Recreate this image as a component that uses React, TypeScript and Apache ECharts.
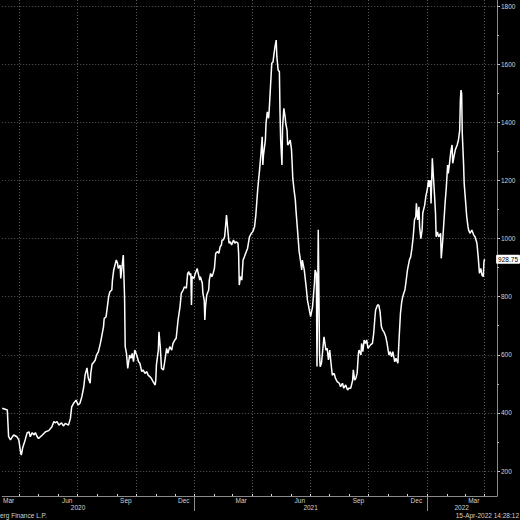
import React, { useEffect, useRef } from 'react';
import * as echarts from 'echarts';

// ---- data ----
const START_DATE = '2020-03-05'; // day 0 of dayOffsets
const X_MIN = '2020-03-05';
const X_MAX = '2022-04-20T12:00:00Z';
const Y_MIN = 114;
const Y_MAX = 1821;

const dayOffsets = [
  0, 8, 10, 13, 16, 18, 23, 26, 29, 30,
  32, 36, 39, 42, 44, 47, 50, 52, 55, 57,
  63, 68, 73, 78, 81, 83, 86, 89, 93, 96,
  99, 104, 107, 109, 112, 116, 119, 122, 125, 128,
  130, 133, 135, 138, 139, 141, 143, 146, 148, 151,
  154, 156, 159, 160, 163, 165, 167, 169, 172, 173,
  175, 179, 181, 182, 185, 186, 188, 190, 192, 193,
  195, 197, 200, 202, 204, 206, 208, 211, 214, 216,
  219, 221, 224, 227, 229, 232, 234, 237, 240, 241,
  242, 245, 246, 248, 250, 253, 255, 258, 260, 263,
  266, 268, 271, 273, 276, 279, 281, 284, 286, 289,
  291, 293, 294, 296, 297, 298, 301, 303, 306, 307,
  310, 311, 314, 315, 317, 318, 319, 321, 324, 325,
  327, 329, 331, 333, 335, 338, 340, 342, 344, 345,
  347, 349, 350, 352, 354, 356, 358, 360, 363, 365,
  367, 370, 371, 372, 374, 376, 378, 380, 383, 385,
  388, 391, 393, 396, 398, 401, 404, 406, 408, 409,
  410, 413, 414, 416, 418, 419, 421, 423, 425, 426,
  428, 430, 431, 433, 435, 436, 437, 439, 440, 442,
  444, 445, 447, 448, 450, 452, 454, 455, 456, 458,
  460, 461, 463, 465, 466, 468, 470, 471, 474, 477,
  479, 482, 484, 487, 490, 491, 493, 494, 496, 498,
  499, 501, 503, 505, 508, 510, 512, 514, 516, 518,
  521, 523, 526, 529, 531, 534, 536, 539, 542, 544,
  547, 550, 551, 553, 555, 557, 559, 560, 563, 564,
  566, 568, 570, 572, 574, 576, 578, 581, 583, 585,
  586, 589, 591, 593, 595, 597, 599, 602, 604, 606,
  607, 609, 611, 613, 615, 616, 618, 620, 621, 623,
  625, 627, 628, 630, 632, 634, 636, 639, 641, 643,
  645, 647, 649, 650, 652, 654, 655, 657, 659, 660,
  663, 665, 667, 669, 670, 672, 673, 675, 677, 678,
  680, 681, 683, 685, 688, 689, 691, 693, 695, 697,
  699, 700, 702, 704, 706, 707, 709, 711, 714, 716,
  718, 719, 720, 721, 722, 724, 725, 727, 729, 731,
  732, 734, 737, 740, 742, 745, 747, 749, 751, 753,
  755, 756, 757,
];

const prices = [
  416, 410, 318, 307, 318, 324, 318, 307, 262, 255,
  279, 307, 331, 335, 318, 332, 324, 332, 318, 312,
  324, 335, 339, 352, 370, 366, 370, 358, 366, 355,
  364, 358, 381, 421, 433, 444, 427, 433, 456, 490,
  530, 555, 520, 502, 537, 568, 572, 582, 599, 611,
  639, 662, 697, 725, 731, 765, 800, 817, 823, 857,
  892, 926, 915, 897, 909, 863, 903, 943, 800, 628,
  605, 553, 599, 588, 605, 576, 616, 599, 576, 571,
  542, 548, 536, 542, 530, 524, 519, 507, 496, 513,
  565, 616, 679, 628, 553, 548, 576, 622, 605, 628,
  616, 639, 651, 657, 720, 765, 811, 823, 834, 829,
  880, 886, 874, 880, 771, 869, 863, 880, 897, 886,
  857, 869, 846, 811, 788, 720, 765, 806, 823, 857,
  880, 869, 880, 897, 949, 955, 949, 972, 978, 995,
  995, 1006, 1029, 1081, 1029, 984, 989, 978, 995, 984,
  989, 984, 949, 840, 869, 857, 926, 937, 955, 966,
  1006, 1018, 1023, 1041, 1080, 1170, 1240, 1290, 1350, 1253,
  1287, 1339, 1396, 1436, 1414, 1442, 1522, 1603, 1608, 1626,
  1660, 1683, 1626, 1580, 1574, 1431, 1339, 1253, 1385, 1448,
  1419, 1396, 1373, 1322, 1328, 1339, 1305, 1259, 1207, 1167,
  1133, 1098, 1041, 984, 955, 926, 892, 926, 892, 834,
  788, 754, 731, 765, 846, 892, 880, 560, 1030, 600,
  559, 571, 616, 662, 616, 622, 582, 616, 571, 530,
  536, 519, 507, 502, 490, 502, 485, 496, 479, 485,
  485, 513, 548, 513, 519, 536, 605, 616, 599, 639,
  611, 651, 639, 651, 622, 628, 634, 639, 674, 731,
  754, 771, 771, 748, 697, 685, 679, 662, 639, 611,
  599, 611, 593, 611, 588, 576, 588, 576, 571, 662,
  743, 783, 794, 811, 823, 857, 892, 926, 937, 966,
  1006, 1064, 1075, 1121, 1064, 1109, 1041, 1000, 1030, 1087,
  1115, 1148, 1167, 1201, 1178, 1201, 1121, 1276, 1201, 1167,
  1087, 1006, 1023, 1006, 1018, 932, 984, 1052, 1121, 1178,
  1253, 1224, 1259, 1299, 1322, 1259, 1282, 1305, 1322, 1339,
  1373, 1477, 1511, 1499, 1362, 1259, 1190, 1133, 1075, 1041,
  1029, 1018, 1029, 1012, 1006, 984, 937, 880, 897, 874,
  869, 920, 928.75,
];

const lastPrice = 928.75;

const quarterStarts = [
  '2020-04-01', '2020-07-01', '2020-10-01', '2021-01-01', '2021-04-01',
  '2021-07-01', '2021-10-01', '2022-01-01', '2022-04-01',
];
const monthStarts = [
  '2020-04-01', '2020-05-01', '2020-06-01', '2020-07-01', '2020-08-01', '2020-09-01',
  '2020-10-01', '2020-11-01', '2020-12-01', '2021-01-01', '2021-02-01', '2021-03-01',
  '2021-04-01', '2021-05-01', '2021-06-01', '2021-07-01', '2021-08-01', '2021-09-01',
  '2021-10-01', '2021-11-01', '2021-12-01', '2022-01-01', '2022-02-01', '2022-03-01',
  '2022-04-01',
];
const monthLabelDates = [
  '2020-03-15', '2020-06-15', '2020-09-15', '2020-12-15', '2021-03-15',
  '2021-06-15', '2021-09-15', '2021-12-15', '2022-03-15',
];
const MONTH_NAMES = ['Jan', 'Feb', 'Mar', 'Apr', 'May', 'Jun', 'Jul', 'Aug', 'Sep', 'Oct', 'Nov', 'Dec'];
const yearStarts = ['2021-01-01', '2022-01-01'];
const yearLabelDates = ['2020-07-02', '2021-07-02', '2022-02-24'];

const majorYTicks = [200, 400, 600, 800, 1000, 1200, 1400, 1600, 1800];
const minorYTicks = [200, 300, 400, 500, 600, 700, 800, 900, 1000, 1100, 1200, 1300, 1400, 1500, 1600, 1700, 1800];

// the reference image is cropped at the left, only this part of the source line is visible
const sourceText = 'erg Finance L.P.';
const stampText = '15-Apr-2022 14:28:12';

// ---- helpers ----
const DAY = 86400000;
const ts = (s: string) => new Date(s.length === 10 ? s + 'T00:00:00Z' : s).getTime();

const FONT = 'Liberation Sans';
const LABEL_COLOR = '#d2d2d2';
const AXIS_COLOR = '#8a8a8a';
const GRID_COLOR = '#5a5a5a';

export default function App() {
  const ref = useRef<HTMLDivElement>(null);

  useEffect(() => {
    if (!ref.current) return;
    const chart = echarts.init(ref.current, undefined, { renderer: 'svg' });
    const t0 = ts(START_DATE);
    const lineData = dayOffsets.map((d, i) => [t0 + d * DAY, prices[i]]);
    const xMin = ts(X_MIN);
    const xMax = ts(X_MAX);

    const baseX = {
      type: 'value',
      min: xMin,
      max: xMax,
      position: 'bottom',
      offset: 0,
    };

    chart.setOption({
      animation: false,
      backgroundColor: '#000000',
      grid: { left: 0, right: 23, top: 0, bottom: 24, containLabel: false },
      xAxis: [
        {
          ...baseX,
          axisLine: { show: true, lineStyle: { color: AXIS_COLOR, width: 1 } },
          axisTick: { show: false, customValues: quarterStarts.map(ts) },
          splitLine: { show: true, lineStyle: { color: GRID_COLOR, width: 1, type: [1, 2] } },
          axisLabel: {
            show: true,
            customValues: monthLabelDates.map(ts),
            formatter: (v: number) => MONTH_NAMES[new Date(v).getUTCMonth()],
            color: LABEL_COLOR,
            fontFamily: FONT,
            fontSize: 6.5,
            margin: 1,
            hideOverlap: false,
          },
        },
        {
          ...baseX,
          axisLine: { show: false },
          axisTick: {
            show: true,
            inside: true,
            length: 2,
            customValues: monthStarts.map(ts),
            lineStyle: { color: '#d8d8d8', width: 1 },
          },
          splitLine: { show: false },
          axisLabel: { show: false },
        },
        {
          ...baseX,
          axisLine: { show: false },
          axisTick: {
            show: true,
            length: 15,
            customValues: yearStarts.map(ts),
            lineStyle: { color: AXIS_COLOR, width: 1 },
          },
          splitLine: { show: false },
          axisLabel: {
            show: true,
            customValues: yearLabelDates.map(ts),
            formatter: (v: number) => String(new Date(v).getUTCFullYear()),
            color: LABEL_COLOR,
            fontFamily: FONT,
            fontSize: 6.5,
            margin: 8,
            hideOverlap: false,
          },
        },
      ],
      yAxis: [
        {
          type: 'value',
          position: 'right',
          min: Y_MIN,
          max: Y_MAX,
          axisLine: { show: true, lineStyle: { color: AXIS_COLOR, width: 1 } },
          axisTick: { show: true, length: 3, customValues: majorYTicks, lineStyle: { color: '#d8d8d8' } },
          splitLine: { show: true, lineStyle: { color: GRID_COLOR, width: 1, type: [1, 2] } },
          axisLabel: {
            show: true,
            customValues: majorYTicks,
            formatter: (v: number) => String(v),
            color: LABEL_COLOR,
            fontFamily: FONT,
            fontSize: 6.5,
            margin: 4,
          },
          axisPointer: {
            show: true,
            value: lastPrice,
            status: 'show',
            snap: false,
            triggerTooltip: false,
            lineStyle: { opacity: 0, width: 0 },
            handle: { show: false },
            label: {
              show: true,
              formatter: () => lastPrice.toFixed(2),
              backgroundColor: '#ffffff',
              color: '#000000',
              fontFamily: FONT,
              fontSize: 6.5,
              padding: [1, 2, 1, 2],
              borderRadius: 1,
              margin: 1,
            },
          },
        },
        {
          type: 'value',
          position: 'right',
          min: Y_MIN,
          max: Y_MAX,
          axisLine: { show: false },
          axisTick: { show: true, length: 2, customValues: minorYTicks, lineStyle: { color: '#b0b0b0' } },
          splitLine: { show: false },
          axisLabel: { show: false },
        },
      ],
      series: [
        {
          type: 'line',
          xAxisIndex: 0,
          yAxisIndex: 0,
          data: lineData,
          showSymbol: false,
          symbol: 'none',
          clip: true,
          lineStyle: { color: '#ffffff', width: 1.5 },
          silent: true,
        },
      ],
      graphic: [
        {
          type: 'text',
          x: 0,
          y: 515,
          style: {
            text: sourceText,
            fill: LABEL_COLOR,
            font: `6.5px "${FONT}"`,
            verticalAlign: 'middle',
            align: 'left',
          },
        },
        {
          type: 'text',
          x: 519,
          y: 515,
          style: {
            text: stampText,
            fill: LABEL_COLOR,
            font: `6.5px "${FONT}"`,
            verticalAlign: 'middle',
            align: 'right',
          },
        },
      ],
    });

    return () => chart.dispose();
  }, []);

  return (
    <div
      ref={ref}
      style={{ position: 'absolute', left: 0, top: 0, width: 520, height: 520, background: '#000' }}
    />
  );
}
